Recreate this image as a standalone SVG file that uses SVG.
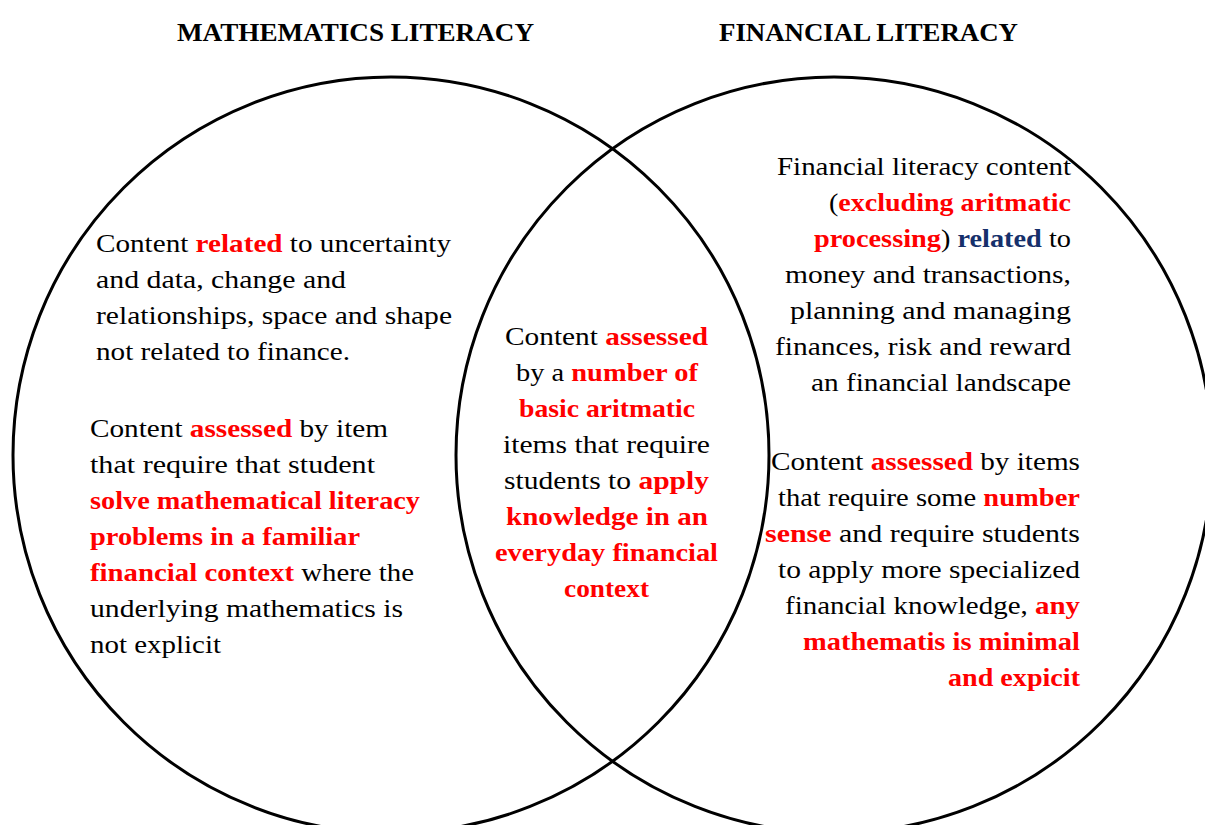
<svg xmlns="http://www.w3.org/2000/svg" width="1205" height="825" viewBox="0 0 1205 825">
<style>
text{font-family:"Liberation Serif","Times New Roman",serif;font-size:25px;fill:#000}
.t{font-weight:bold;font-size:26px}
.r{fill:#ff0000;font-weight:bold}
.n{fill:#16306b;font-weight:bold}
.b{font-weight:bold}
.c{fill:none;stroke:#000;stroke-width:3}
.m{text-anchor:middle}
.e{text-anchor:end}
</style>
<rect width="1205" height="825" fill="#fff"/>
<g id="circles">
<circle id="math-circle" class="c" cx="391" cy="455" r="378"/>
<circle id="fin-circle" class="c" cx="834" cy="455" r="378"/>
</g>
<g id="titles">
<text class="t" x="177" y="41" textLength="357" lengthAdjust="spacingAndGlyphs">MATHEMATICS LITERACY</text>
<text class="t" x="719" y="41" textLength="299" lengthAdjust="spacingAndGlyphs">FINANCIAL LITERACY</text>
</g>
<g id="math-only-1">
<text x="96" y="252" textLength="355" lengthAdjust="spacingAndGlyphs">Content <tspan class="r">related</tspan> to uncertainty</text>
<text x="96" y="288" textLength="250" lengthAdjust="spacingAndGlyphs">and data, change and</text>
<text x="96" y="324" textLength="356" lengthAdjust="spacingAndGlyphs">relationships, space and shape</text>
<text x="96" y="360" textLength="254" lengthAdjust="spacingAndGlyphs">not related to finance.</text>
</g>
<g id="math-only-2">
<text x="90" y="437" textLength="298" lengthAdjust="spacingAndGlyphs">Content <tspan class="r">assessed</tspan> by item</text>
<text x="90" y="473" textLength="285" lengthAdjust="spacingAndGlyphs">that require that student</text>
<text x="90" y="509" textLength="330" lengthAdjust="spacingAndGlyphs" class="r">solve mathematical literacy</text>
<text x="90" y="545" textLength="270" lengthAdjust="spacingAndGlyphs" class="r">problems in a familiar</text>
<text x="90" y="581" textLength="324" lengthAdjust="spacingAndGlyphs"><tspan class="r">financial context</tspan> where the</text>
<text x="90" y="617" textLength="313" lengthAdjust="spacingAndGlyphs">underlying mathematics is</text>
<text x="90" y="653" textLength="131" lengthAdjust="spacingAndGlyphs">not explicit</text>
</g>
<g id="overlap">
<text x="505" y="345" textLength="203" lengthAdjust="spacingAndGlyphs">Content <tspan class="r">assessed</tspan></text>
<text x="516" y="381" textLength="182" lengthAdjust="spacingAndGlyphs">by a <tspan class="r">number of</tspan></text>
<text x="519" y="417" textLength="176" lengthAdjust="spacingAndGlyphs" class="r">basic aritmatic</text>
<text x="503" y="453" textLength="207" lengthAdjust="spacingAndGlyphs">items that require</text>
<text x="504" y="489" textLength="205" lengthAdjust="spacingAndGlyphs">students to <tspan class="r">apply</tspan></text>
<text x="506" y="525" textLength="202" lengthAdjust="spacingAndGlyphs" class="r">knowledge in an</text>
<text x="495" y="561" textLength="223" lengthAdjust="spacingAndGlyphs" class="r">everyday financial</text>
<text x="564" y="597" textLength="85" lengthAdjust="spacingAndGlyphs" class="r">context</text>
</g>
<g id="fin-only-1">
<text x="777" y="175" textLength="294" lengthAdjust="spacingAndGlyphs">Financial literacy content</text>
<text x="829" y="211" textLength="242" lengthAdjust="spacingAndGlyphs">(<tspan class="r">excluding aritmatic</tspan></text>
<text x="814" y="247" textLength="257" lengthAdjust="spacingAndGlyphs"><tspan class="r">processing</tspan>) <tspan class="n">related</tspan> to</text>
<text x="785" y="283" textLength="286" lengthAdjust="spacingAndGlyphs">money and transactions,</text>
<text x="790" y="319" textLength="281" lengthAdjust="spacingAndGlyphs">planning and managing</text>
<text x="775" y="355" textLength="296" lengthAdjust="spacingAndGlyphs">finances, risk and reward</text>
<text x="811" y="391" textLength="260" lengthAdjust="spacingAndGlyphs">an financial landscape</text>
</g>
<g id="fin-only-2">
<text x="771" y="470" textLength="309" lengthAdjust="spacingAndGlyphs">Content <tspan class="r">assessed</tspan> by items</text>
<text x="778" y="506" textLength="302" lengthAdjust="spacingAndGlyphs">that require some <tspan class="r">number</tspan></text>
<text x="765" y="542" textLength="315" lengthAdjust="spacingAndGlyphs"><tspan class="r">sense</tspan> and require students</text>
<text x="778" y="578" textLength="302" lengthAdjust="spacingAndGlyphs">to apply more specialized</text>
<text x="785" y="614" textLength="295" lengthAdjust="spacingAndGlyphs">financial knowledge, <tspan class="r">any</tspan></text>
<text x="803" y="650" textLength="277" lengthAdjust="spacingAndGlyphs" class="r">mathematis is minimal</text>
<text x="948" y="686" textLength="132" lengthAdjust="spacingAndGlyphs" class="r">and expicit</text>
</g>
</svg>
